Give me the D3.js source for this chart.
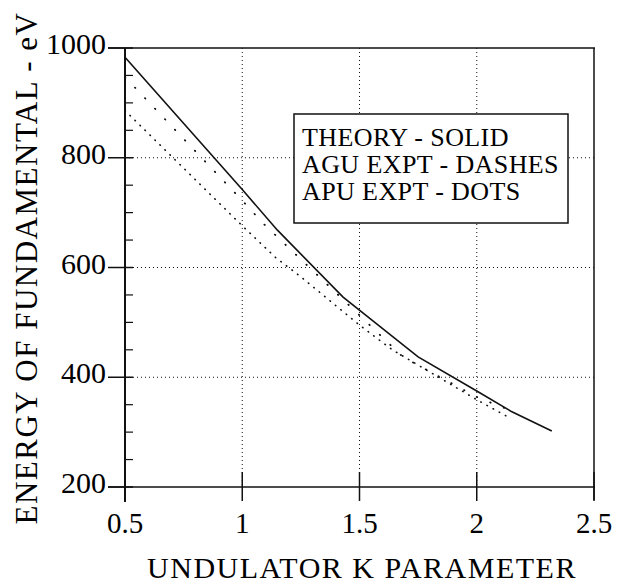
<!DOCTYPE html>
<html>
<head>
<meta charset="utf-8">
<script src="https://cdn.jsdelivr.net/npm/d3@7"></script>
</head>
<body style="margin:0">
<svg id="chart" width="621" height="584"></svg>
<script>
// values
let xTicks = [0.5, 1, 1.5, 2, 2.5];
let yTicks = [200, 400, 600, 800, 1000];
let yMinor = [250, 300, 350, 450, 500, 550, 650, 700, 750, 850, 900, 950];

let theoryK = [0.5, 1.0, 1.15, 1.43, 1.75, 2.0, 2.15, 2.32];
let theoryE = [983, 742, 668, 546, 437, 375, 337, 302];

let aguK = [0.5, 1.0, 1.09, 1.5, 1.685, 2.0, 2.17];
let aguE = [947, 722, 680, 513, 437, 364, 335];

let apuK = [0.5, 1.0, 1.14, 1.25, 1.5, 1.64, 2.0, 2.14];
let apuE = [886, 676, 619, 583, 495, 450, 359, 326];

let legendLines = ["THEORY - SOLID", "AGU EXPT - DASHES", "APU EXPT - DOTS"];

let svg = d3.select("#chart").style("font-family", "'Liberation Serif'");
let ink = "#111";

let x = d3.scaleLinear().domain([0.5, 2.5]).range([125, 594]);
let y = d3.scaleLinear().domain([200, 1000]).range([487, 48]);

// dotted grid
svg.selectAll(".vgrid")
  .data(xTicks.slice(1, -1))
  .enter().append("line")
    .attr("x1", d => x(d)).attr("x2", d => x(d))
    .attr("y1", y(1000)).attr("y2", y(200))
    .style("stroke", ink)
    .style("stroke-width", 1)
    .style("stroke-dasharray", "1,3");

svg.selectAll(".hgrid")
  .data(yTicks.slice(1, -1))
  .enter().append("line")
    .attr("x1", x(0.5)).attr("x2", x(2.5))
    .attr("y1", d => y(d)).attr("y2", d => y(d))
    .style("stroke", ink)
    .style("stroke-width", 1)
    .style("stroke-dasharray", "1,3");

// frame: top line and right side
svg.append("line")
  .attr("x1", x(0.5) - 17).attr("x2", x(2.5) + 1)
  .attr("y1", y(1000)).attr("y2", y(1000))
  .style("stroke", ink).style("stroke-width", 1.5);

svg.append("line")
  .attr("x1", x(2.5)).attr("x2", x(2.5))
  .attr("y1", y(1000)).attr("y2", y(200) + 13)
  .style("stroke", ink).style("stroke-width", 1.5);

// left axis
svg.append("line")
  .attr("x1", x(0.5)).attr("x2", x(0.5))
  .attr("y1", y(1000)).attr("y2", y(200) + 15)
  .style("stroke", ink).style("stroke-width", 2);

svg.selectAll(".ymajor")
  .data(yTicks)
  .enter().append("line")
    .attr("x1", x(0.5) - 17).attr("x2", x(0.5) + 8)
    .attr("y1", d => y(d)).attr("y2", d => y(d))
    .style("stroke", ink).style("stroke-width", 1.5);

svg.selectAll(".yminor")
  .data(yMinor)
  .enter().append("line")
    .attr("x1", x(0.5)).attr("x2", x(0.5) + 8)
    .attr("y1", d => y(d)).attr("y2", d => y(d))
    .style("stroke", ink).style("stroke-width", 1.2);

svg.selectAll(".ylabel")
  .data(yTicks)
  .enter().append("text")
    .attr("x", x(0.5) - 19)
    .attr("y", d => y(d) + 6)
    .attr("text-anchor", "end")
    .style("font-family", "'Liberation Serif'")
    .style("font-size", "30px")
    .text(d => d);

// bottom axis
svg.append("line")
  .attr("x1", x(0.5) - 17).attr("x2", x(2.5) + 1)
  .attr("y1", y(200)).attr("y2", y(200))
  .style("stroke", ink).style("stroke-width", 1.5);

svg.selectAll(".xmajor")
  .data(xTicks)
  .enter().append("line")
    .attr("x1", d => x(d)).attr("x2", d => x(d))
    .attr("y1", y(200) - 15).attr("y2", y(200) + 14)
    .style("stroke", ink).style("stroke-width", 1.5);

svg.selectAll(".xlabel")
  .data(xTicks)
  .enter().append("text")
    .attr("x", d => x(d))
    .attr("y", 533)
    .attr("text-anchor", "middle")
    .style("font-family", "'Liberation Serif'")
    .style("font-size", "29px")
    .text(d => d);

// axis titles
svg.append("text")
  .attr("x", 362)
  .attr("y", 578)
  .attr("text-anchor", "middle")
  .style("font-family", "'Liberation Serif'")
  .style("font-size", "30px")
  .style("letter-spacing", "1.5px")
  .text("UNDULATOR K PARAMETER");

svg.append("text")
  .attr("transform", "translate(37,268) rotate(-90)")
  .attr("text-anchor", "middle")
  .style("font-family", "'Liberation Serif'")
  .style("font-size", "31px")
  .style("letter-spacing", "1.5px")
  .text("ENERGY OF FUNDAMENTAL - eV");

// curves
let line = d3.line()
  .x(d => x(d[0]))
  .y(d => y(d[1]));

svg.append("path")
  .datum(d3.zip(apuK, apuE))
  .attr("d", line)
  .style("fill", "none")
  .style("stroke", ink)
  .style("stroke-width", 1.6)
  .style("stroke-linecap", "round")
  .style("stroke-dasharray", "0.5,6.5");

svg.append("path")
  .datum(d3.zip(aguK, aguE))
  .attr("d", line)
  .style("fill", "none")
  .style("stroke", ink)
  .style("stroke-width", 1.8)
  .style("stroke-linecap", "round")
  .style("stroke-dasharray", "0.5,14");

svg.append("path")
  .datum(d3.zip(theoryK, theoryE))
  .attr("d", line)
  .style("fill", "none")
  .style("stroke", ink)
  .style("stroke-width", 1.6);

// legend box
svg.append("rect")
  .attr("x", 294).attr("y", 114)
  .attr("width", 274).attr("height", 109)
  .style("fill", "#fff")
  .style("stroke", ink)
  .style("stroke-width", 1.5);

svg.selectAll(".legend")
  .data(legendLines)
  .enter().append("text")
    .attr("x", 302)
    .attr("y", (d, i) => 146 + i * 27)
    .style("font-family", "'Liberation Serif'")
    .style("font-size", "26px")
    .style("letter-spacing", "0.4px")
    .text(d => d);
</script>
</body>
</html>
